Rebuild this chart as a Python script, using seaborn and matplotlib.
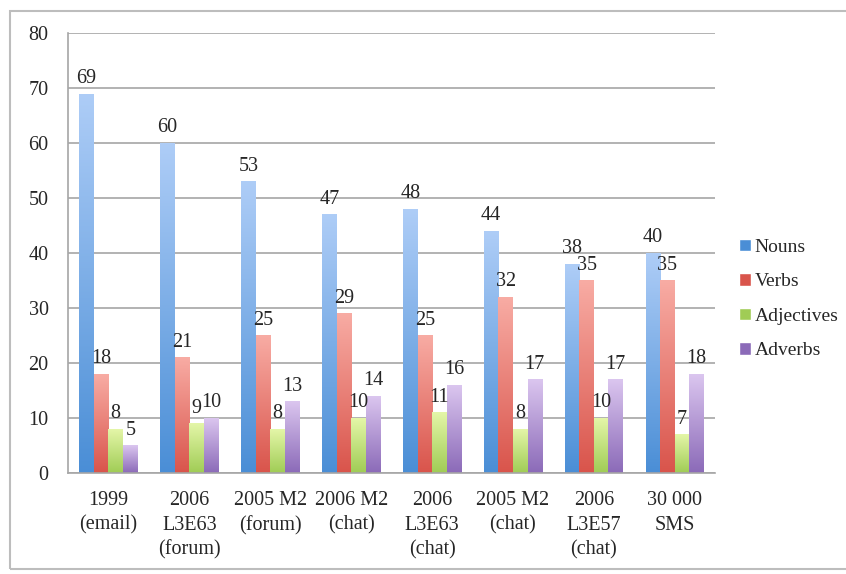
import numpy as np
import pandas as pd
import seaborn as sns
import matplotlib.pyplot as plt
from matplotlib.colors import LinearSegmentedColormap
from matplotlib.patches import Rectangle

categories = ['1999\n(email)', '2006\nL3E63\n(forum)', '2005 M2\n(forum)', '2006 M2\n(chat)',
              '2006\nL3E63\n(chat)', '2005 M2\n(chat)', '2006\nL3E57\n(chat)', '30 000\nSMS']
series = ['Nouns', 'Verbs', 'Adjectives', 'Adverbs']
nouns = [69, 60, 53, 47, 48, 44, 38, 40]
verbs = [18, 21, 25, 29, 25, 32, 35, 35]
adjectives = [8, 9, 8, 10, 11, 8, 10, 7]
adverbs = [5, 10, 13, 14, 16, 17, 17, 18]

# light (top) / dark (bottom) colours of the gradient fill
top_colors = ['#aecdf7', '#f8aca4', '#e4f6a8', '#dbc6ef']
bottom_colors = ['#4a8ed6', '#d9544b', '#a0cc55', '#8b6ab8']

df = pd.DataFrame({
    'category': categories * 4,
    'series': [s for s in series for _ in categories],
    'value': nouns + verbs + adjectives + adverbs,
})

sns.set_style('white')
plt.rcParams['font.family'] = ['Liberation Serif', 'DejaVu Serif']

fig = plt.figure(figsize=(8.46, 5.74), dpi=100)
ax = fig.add_axes([0.0804, 0.176, 0.765, 0.7665])

sns.barplot(data=df, x='category', y='value', hue='series', hue_order=series,
            palette=bottom_colors, width=0.72, ax=ax, saturation=1)

# vertical gradient on every bar
for cont, c_top, c_bot in zip(ax.containers, top_colors, bottom_colors):
    cmap = LinearSegmentedColormap.from_list('g', [c_bot, c_top])
    grad = np.linspace(0, 1, 256).reshape(-1, 1)
    for bar in cont:
        x, w, h = bar.get_x(), bar.get_width(), bar.get_height()
        im = ax.imshow(grad, extent=[x, x + w, 0, h], origin='lower', cmap=cmap,
                       aspect='auto', zorder=2)
        im.set_clip_path(bar)
        bar.set_edgecolor('none')
    ax.bar_label(cont, padding=4, fontsize=14.5)

ax.set_xlim(-0.5, 7.5)
ax.set_ylim(0, 80)
ax.set_yticks(range(0, 81, 10))
ax.yaxis.grid(True, color='#a6a6a6', linewidth=1.2)
ax.set_axisbelow(True)
ax.set_xlabel('')
ax.set_ylabel('')
ax.tick_params(axis='both', labelsize=14.5, length=0)
ax.tick_params(axis='y', pad=14)
ax.set_xticks(np.arange(-0.5, 8, 1), minor=True)
ax.tick_params(axis='x', which='minor', length=7, color='#a6a6a6', width=1.2)
ax.tick_params(axis='x', which='major', pad=13)
for lab in ax.get_xticklabels():
    lab.set_linespacing(1.4)
for side in ['top', 'right']:
    ax.spines[side].set_visible(False)
for side in ['left', 'bottom']:
    ax.spines[side].set_color('#a6a6a6')
    ax.spines[side].set_linewidth(1.2)

handles, labels = ax.get_legend_handles_labels()
for hnd, c in zip(handles, bottom_colors):
    hnd.set_facecolor(c)
ax.legend(handles, labels, loc='center left', bbox_to_anchor=(0.869, 0.479),
          bbox_transform=fig.transFigure, frameon=False, fontsize=14,
          handlelength=0.6, handleheight=0.6, handletextpad=0.2, labelspacing=0.9,
          borderpad=0.1, borderaxespad=0.1)

fig.patches.append(Rectangle((0.012, 0.008), 1.2, 0.972, transform=fig.transFigure,
                             fill=False, edgecolor='#bdbdbd', linewidth=1.5))

fig.savefig('out.png', dpi=100)
